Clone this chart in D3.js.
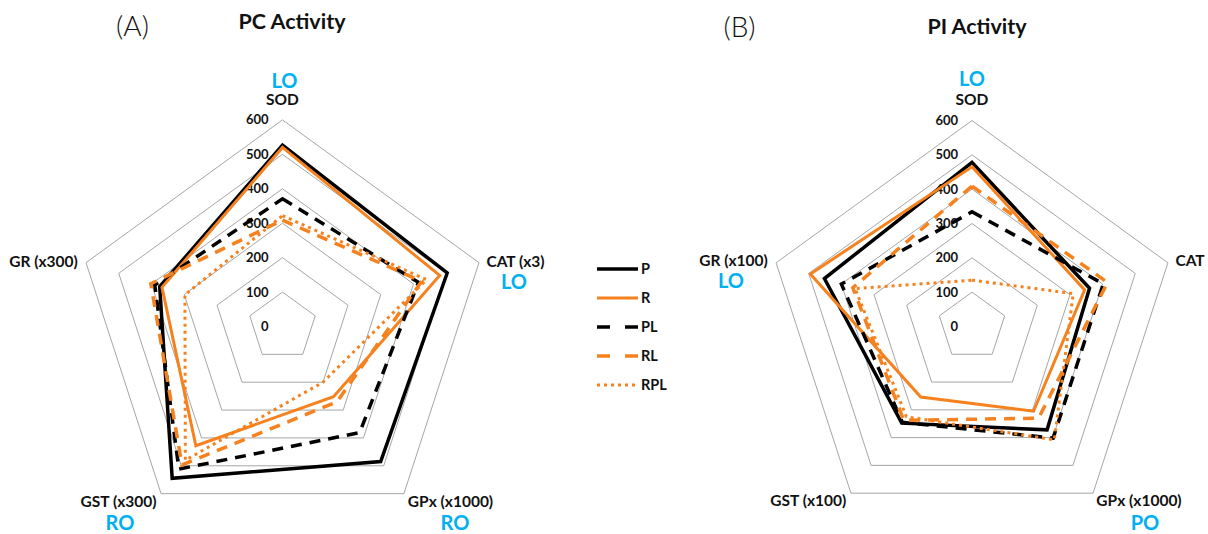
<!DOCTYPE html>
<html><head><meta charset="utf-8">
<script src="https://cdn.jsdelivr.net/npm/d3@7"></script>
<style>
html,body{margin:0;padding:0;background:#fff;}
svg{display:block;font-family:Lato,"Open Sans",sans-serif;}
</style></head>
<body><svg id="c" width="1208" height="534"></svg>
<script>
// ---------- data ----------
const axisKeys = ["SOD","CAT","GPx","GST","GR"];
const axisLabelsA = ["SOD","CAT (x3)","GPx (x1000)","GST (x300)","GR (x300)"];
const axisLabelsB = ["SOD","CAT","GPx (x1000)","GST (x100)","GR (x100)"];
const tagsA = ["LO","LO","RO","RO",""];
const tagsB = ["LO","","PO","","LO"];
const ticks = [0,100,200,300,400,500,600];
const seriesNames = ["P","R","PL","RL","RPL"];
// values in axis order: SOD, CAT, GPx, GST, GR
const pcP   = [527, 503, 485, 545, 375];
const pcR   = [520, 480, 252, 428, 368];
const pcPL  = [371, 415, 381, 512, 390];
const pcRL  = [309, 425, 270, 497, 402];
const pcRPL = [322, 440, 200, 480, 298];
const piP   = [478, 360, 372, 348, 452];
const piR   = [465, 345, 305, 254, 495];
const piPL  = [334, 402, 402, 345, 400];
const piRL  = [409, 415, 330, 338, 365];
const piRPL = [135, 310, 408, 325, 358];

// ---------- styles ----------
const ORANGE = "#F5821F", BLUE = "#00B0F0";
const styles = {
  P:   {color:"#000", width:3.5, dash:null},
  R:   {color:ORANGE, width:3,   dash:null},
  PL:  {color:"#000", width:3.5, dash:"11,8"},
  RL:  {color:ORANGE, width:3.5, dash:"11,8"},
  RPL: {color:ORANGE, width:3,   dash:"3,4"}
};

const svg = d3.select("#c");

function radar(cfg){
  const g = svg.append("g").attr("transform",`translate(${cfg.cx},${cfg.cy})`);
  const r = d3.scaleLinear().domain([0,600]).range([0,cfg.R]);
  const ang = d3.scalePoint().domain(axisKeys.concat(["_end"])).range([0,2*Math.PI]);
  const pt = (k,v)=>[r(v)*Math.sin(ang(k)), -r(v)*Math.cos(ang(k))];

  // grid rings
  ticks.filter(t=>t>0).forEach(t=>{
    g.append("polygon")
      .attr("points", axisKeys.map(k=>pt(k,t).join(",")).join(" "))
      .attr("fill","none").attr("stroke","#A6A6A6").attr("stroke-width",1);
  });
  // tick labels
  g.selectAll("text.tick").data(ticks).join("text")
    .attr("x",-14).attr("y",d=>-r(d)).attr("dy","0.35em")
    .attr("text-anchor","end").attr("font-size",13).attr("font-weight",700)
    .attr("fill","#111").text(d=>d);

  // series
  const line = d3.lineRadial().angle(d=>ang(d.k)).radius(d=>r(d.v)).curve(d3.curveLinearClosed);
  cfg.series.forEach((vals,i)=>{
    const s = styles[seriesNames[i]];
    g.append("path")
      .attr("d", line(axisKeys.map((k,j)=>({k, v:vals[j]}))))
      .attr("fill","none").attr("stroke",s.color).attr("stroke-width",s.width)
      .attr("stroke-dasharray",s.dash).attr("stroke-linejoin","miter");
  });

  // axis labels
  axisKeys.forEach((k,i)=>{
    const o = cfg.labelPos[i];
    g.append("text").attr("x",o[0]).attr("y",o[1]).attr("dy","0.35em")
      .attr("text-anchor","middle").attr("font-size",15.5).attr("font-weight",700)
      .attr("fill","#111").text(cfg.labels[i]);
    if(cfg.tags[i]){
      const t = cfg.tagPos[i];
      g.append("text").attr("x",t[0]).attr("y",t[1]).attr("dy","0.35em")
        .attr("text-anchor","middle").attr("font-size",20).attr("font-weight",700)
        .attr("fill",BLUE).text(cfg.tags[i]);
    }
  });
  // titles
  svg.append("text").attr("x",cfg.letterX).attr("y",cfg.letterY).attr("dy","0.35em")
    .attr("text-anchor","middle").attr("font-size",28).attr("font-weight",300)
    .attr("fill","#111").text(cfg.letter);
  svg.append("text").attr("x",cfg.titleX).attr("y",cfg.titleY).attr("dy","0.35em")
    .attr("text-anchor","middle").attr("font-size",21.5).attr("font-weight",700)
    .attr("fill","#111").text(cfg.title);
}

radar({cx:282.5, cy:326.5, R:206.6,
  series:[pcP,pcR,pcPL,pcRL,pcRPL], labels:axisLabelsA, tags:tagsA,
  labelPos:[[0,-226.5],[233,-65],[168,175],[-164,175],[-239,-64.5]],
  tagPos:[[2,-246],[231.5,-45],[172.5,196.5],[-162.5,196.5],[0,0]],
  letter:"(A)", letterX:132.5, letterY:26, title:"PC Activity", titleX:292, titleY:21});

radar({cx:972, cy:326.5, R:206,
  series:[piP,piR,piPL,piRL,piRPL], labels:axisLabelsB, tags:tagsB,
  labelPos:[[0,-226.5],[218,-66],[167,174],[-163.7,174],[-238.5,-66]],
  tagPos:[[0,-247.5],[0,0],[173,196],[0,0],[-241,-46]],
  letter:"(B)", letterX:739.5, letterY:27, title:"PI Activity", titleX:977, titleY:26});

// legend
const legY = d3.scalePoint().domain(seriesNames).range([269,385]);
const leg = svg.append("g");
seriesNames.forEach(n=>{
  const s = styles[n];
  leg.append("line").attr("x1",597).attr("x2",638).attr("y1",legY(n)).attr("y2",legY(n))
    .attr("stroke",s.color).attr("stroke-width",s.width)
    .attr("stroke-dasharray", n==="PL"||n==="RL" ? "13,15" : s.dash);
  leg.append("text").attr("x",641).attr("y",legY(n)).attr("dy","0.35em")
    .attr("font-size",14.5).attr("font-weight",700).attr("fill","#111").text(n);
});
</script></body></html>
